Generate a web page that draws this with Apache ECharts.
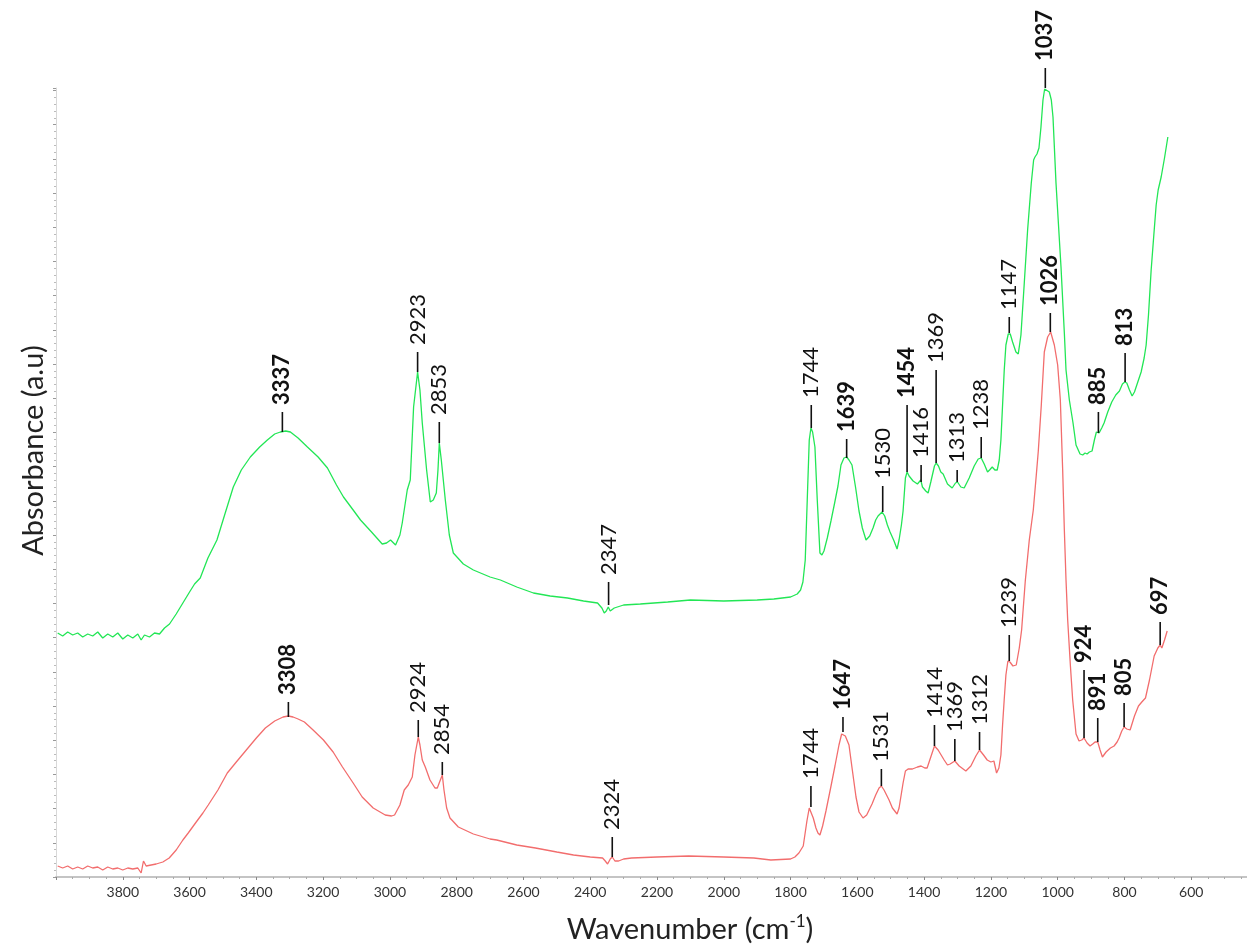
<!DOCTYPE html>
<html>
<head>
<meta charset="utf-8">
<title>FTIR spectra</title>
<script src="https://cdn.jsdelivr.net/npm/echarts@6/dist/echarts.min.js"></script>
<style>
  html, body { margin: 0; padding: 0; background: #fff; }
  #chart { width: 1247px; height: 945px; }
</style>
</head>
<body>
<div id="chart"></div>
<script>
// wavenumber (cm-1), absorbance (a.u., arbitrary offset units)
const greenSpectrum = [
  [3995,244],[3980,241],[3965,245],[3950,242],[3935,244],[3920,240],[3905,243],[3890,241],[3875,245],
  [3860,239],[3845,243],[3830,240],[3815,244],[3800,238],[3785,242],[3770,239],[3755,243],[3745,237],
  [3735,242],[3720,240],[3705,244],[3690,243],[3675,249],[3660,253],[3640,263],[3620,274],[3600,285],
  [3585,293],[3568,299],[3545,319],[3518,337],[3495,362],[3469,390],[3445,407],[3418,420],[3390,430],
  [3367,437],[3345,443],[3328,445],[3312,446],[3298,445],[3275,439],[3247,430],[3215,420],[3187,409],
  [3160,392],[3139,380],[3110,367],[3088,357],[3055,345],[3023,333],[3010,334],[2998,337],[2983,332],
  [2970,342],[2963,354],[2948,387],[2939,397],[2929,470],[2917,505],[2910,487],[2903,454],[2890,407],
  [2879,375],[2870,377],[2861,384],[2856,407],[2852,434],[2846,417],[2834,377],[2822,342],[2810,324],
  [2780,313],[2750,307],[2700,300],[2669,297],[2620,290],[2570,284],[2520,281],[2468,279],[2420,276],
  [2378,274],[2365,269],[2358,264],[2352,266],[2346,270],[2340,266],[2328,269],[2300,272],[2250,273],
  [2168,275],[2100,277],[2000,276],[1900,277],[1850,278],[1800,280],[1780,283],[1770,287],[1763,295],
  [1756,317],[1750,377],[1744,437],[1739,449],[1734,445],[1727,430],[1720,377],[1712,324],[1706,322],
  [1700,326],[1690,339],[1679,356],[1668,374],[1658,391],[1649,412],[1640,419],[1632,420],[1625,417],
  [1616,412],[1605,389],[1595,366],[1585,349],[1574,337],[1563,341],[1553,349],[1545,357],[1538,361],
  [1526,365],[1518,361],[1510,352],[1502,345],[1490,336],[1481,328],[1475,337],[1468,352],[1463,366],
  [1456,399],[1451,405],[1445,401],[1433,396],[1420,393],[1410,397],[1405,390],[1395,386],[1388,384],
  [1380,395],[1369,411],[1364,414],[1357,411],[1350,405],[1343,403],[1330,393],[1316,389],[1306,394],
  [1300,395],[1290,390],[1280,389],[1265,399],[1250,411],[1238,418],[1229,419],[1220,413],[1210,405],
  [1204,407],[1196,410],[1188,407],[1181,407],[1175,417],[1170,437],[1165,472],[1160,507],[1155,532],
  [1148,543],[1142,543],[1135,535],[1125,525],[1118,523],[1110,542],[1100,594],[1090,647],[1079,694],
  [1072,717],[1068,720],[1062,723],[1056,729],[1050,750],[1044,777],[1039,788],[1034,789],[1025,785],
  [1019,777],[1014,760],[1005,694],[990,610],[980,544],[975,507],[965,477],[954,454],[945,432],
  [933,423],[925,422],[918,424],[912,423],[905,425],[897,426],[890,437],[884,445],[876,444],[868,449],
  [861,454],[850,465],[838,475],[826,482],[815,486],[806,493],[799,495],[793,494],[785,487],[777,481],
  [770,485],[760,495],[750,505],[741,519],[735,532],[728,562],[720,607],[712,642],[705,672],[699,687],
  [690,700],[680,719],[670,740]
];

const redSpectrum = [
  [3995,11],[3980,9],[3965,11],[3950,8],[3935,10],[3920,8],[3905,11],[3890,9],[3875,10],[3860,7],
  [3845,10],[3830,8],[3815,9],[3800,7],[3785,9],[3770,8],[3755,9],[3745,4],[3738,16],[3730,11],
  [3715,12],[3700,13],[3680,15],[3661,19],[3640,27],[3620,37],[3604,44],[3580,55],[3560,64],[3544,72],
  [3515,87],[3487,104],[3460,115],[3430,127],[3400,139],[3373,149],[3345,156],[3320,160],[3304,161],
  [3290,160],[3275,158],[3256,155],[3230,147],[3199,137],[3170,125],[3142,110],[3110,94],[3083,80],
  [3050,69],[3014,62],[2995,61],[2986,62],[2970,72],[2957,87],[2945,92],[2933,100],[2925,122],
  [2915,140],[2910,132],[2903,117],[2894,110],[2880,97],[2865,89],[2858,89],[2850,96],[2843,102],
  [2838,87],[2830,69],[2820,59],[2795,50],[2750,43],[2700,38],[2680,37],[2620,32],[2564,29],[2500,25],
  [2450,22],[2400,20],[2363,19],[2355,16],[2348,13],[2340,18],[2334,20],[2326,16],[2315,16],[2300,18],
  [2276,19],[2200,20],[2105,21],[2000,20],[1910,19],[1859,17],[1800,18],[1787,20],[1775,24],[1762,31],
  [1751,56],[1744,69],[1739,70],[1732,59],[1724,49],[1718,44],[1712,42],[1704,51],[1694,66],[1680,89],
  [1667,111],[1655,132],[1647,143],[1643,145],[1636,141],[1625,132],[1615,107],[1604,80],[1595,65],
  [1583,59],[1572,62],[1556,73],[1545,82],[1535,89],[1528,91],[1520,87],[1505,77],[1495,69],[1481,63],
  [1475,69],[1463,94],[1456,106],[1448,108],[1435,108],[1420,110],[1409,111],[1398,109],[1391,109],
  [1380,120],[1369,131],[1358,127],[1349,122],[1340,117],[1330,112],[1322,113],[1308,116],[1295,111],
  [1275,106],[1260,111],[1245,121],[1234,127],[1222,122],[1211,117],[1200,115],[1191,116],[1183,104],
  [1176,109],[1170,122],[1165,152],[1160,178],[1155,202],[1149,216],[1143,215],[1134,211],[1124,212],
  [1115,229],[1108,247],[1097,296],[1085,337],[1073,367],[1064,402],[1058,426],[1049,472],[1040,525],
  [1030,540],[1021,545],[1010,532],[1000,512],[992,477],[985,407],[980,347],[975,297],[970,257],
  [962,212],[955,177],[945,143],[936,136],[928,137],[921,139],[912,134],[903,131],[895,133],[888,135],
  [880,135],[873,127],[866,120],[855,125],[842,129],[831,131],[822,135],[816,139],[808,146],[801,150],
  [793,148],[783,147],[770,161],[758,171],[748,175],[737,179],[725,197],[711,221],[700,229],[693,232],
  [688,229],[680,237],[672,246]
];

// peak marks: [wavenumber where drawn, line bottom, line top]
const greenMarks = [
  [3322,445,465],[2917,505,525],[2852,434,455],[2345,272,295],[1738,449,472],[1632,419,438],
  [1524,365,391],[1451,405,472],[1409,395,412],[1364,414,507],[1301,395,407],[1229,419,440],
  [1145,544,560],[1037,789,809],[878,444,465],[798,495,524]
];
const greenLabels = ['3337','2923','2853','2347','1744','1639','1530','1454','1416','1369','1313','1238','1147','1037','885','813'];
const greenBold = [1,0,0,0,0,1,0,1,0,0,0,0,0,1,1,1];

const redMarks = [
  [3304,160,175],[2915,140,157],[2843,102,115],[2334,20,40],[1739,70,91],[1643,145,160],
  [1528,91,108],[1369,131,152],[1308,116,138],[1234,127,145],[1145,216,242],[1022,545,564],
  [921,139,207],[880,135,159],[801,150,174],[693,232,255]
];
const redLabels = ['3308','2924','2854','2324','1744','1647','1531','1414','1369','1312','1239','1026','924','891','805','697'];
const redBold = [1,0,0,0,0,1,0,0,0,0,0,1,1,1,1,1];

const xTicks = [600, 800, 1000, 1200, 1400, 1600, 1800, 2000, 2200, 2400, 2600, 2800, 3000, 3200, 3400, 3600, 3800];

const FONT = 'Lato, "Open Sans", sans-serif';

function markSeries(marks, labels, bold) {
  return {
    type: 'custom',
    clip: false,
    silent: true,
    z: 5,
    data: marks,
    renderItem: function (params, api) {
      const p1 = api.coord([api.value(0), api.value(1)]);
      const p2 = api.coord([api.value(0), api.value(2)]);
      const i = params.dataIndex;
      return {
        type: 'group',
        children: [
          {
            type: 'line',
            shape: { x1: p1[0], y1: p1[1], x2: p2[0], y2: p2[1] },
            style: { stroke: '#111', lineWidth: 1.6 }
          },
          {
            type: 'text',
            x: p2[0],
            y: p2[1] - 7,
            rotation: Math.PI / 2,
            style: {
              text: labels[i],
              fill: '#111',
              fontSize: 22,
              fontFamily: FONT,
              fontWeight: bold[i] ? 'bold' : 'normal',
              align: 'left',
              verticalAlign: 'middle'
            }
          }
        ]
      };
    }
  };
}

const chart = echarts.init(document.getElementById('chart'));
chart.setOption({
  animation: false,
  backgroundColor: '#fff',
  // the axis runs on to 400 cm-1, just past the right edge of the picture
  grid: { left: 56, width: 1202, top: 88, bottom: 68, outerBoundsMode: 'none', containLabel: false },
  xAxis: {
    type: 'value',
    inverse: true,
    min: 400,
    max: 4000,
    interval: 200,
    name: 'Wavenumber (cm{sup|-1})',
    nameLocation: 'middle',
    nameGap: 36,
    nameTextStyle: {
      fontFamily: FONT, fontSize: 29, color: '#222', lineHeight: 34,
      padding: [0, 0, 0, 66],
      rich: { sup: { fontFamily: FONT, fontSize: 17, color: '#222', verticalAlign: 'top', lineHeight: 34 } }
    },
    axisLine: { lineStyle: { color: '#c4c4c4', width: 2 } },
    axisTick: { length: 3, lineStyle: { color: '#888' } },
    minorTick: { show: true, splitNumber: 4, length: 2, lineStyle: { color: '#aaa' } },
    splitLine: { show: false },
    axisLabel: {
      fontFamily: FONT, fontSize: 14, color: '#333', margin: 8,
      formatter: v => (xTicks.indexOf(v) >= 0 ? String(v) : '')
    }
  },
  yAxis: {
    type: 'value',
    min: 0,
    max: 789,
    interval: 34.2,
    name: 'Absorbance (a.u)',
    nameLocation: 'middle',
    nameGap: 8,
    nameTextStyle: { fontFamily: FONT, fontSize: 29, color: '#222', padding: [0, 0, 0, 64] },
    axisLine: { show: true, lineStyle: { color: '#d8d8d8', width: 1 } },
    axisTick: { length: 3, lineStyle: { color: '#999' } },
    minorTick: { show: true, splitNumber: 5, length: 2, lineStyle: { color: '#bbb' } },
    splitLine: { show: false },
    axisLabel: { show: false }
  },
  series: [
    {
      type: 'line',
      data: greenSpectrum,
      showSymbol: false,
      lineStyle: { color: '#22e655', width: 1.3 },
      z: 3
    },
    {
      type: 'line',
      data: redSpectrum,
      showSymbol: false,
      lineStyle: { color: '#f26d6d', width: 1.3 },
      z: 3
    },
    markSeries(greenMarks, greenLabels, greenBold),
    markSeries(redMarks, redLabels, redBold)
  ]
});
</script>
</body>
</html>
